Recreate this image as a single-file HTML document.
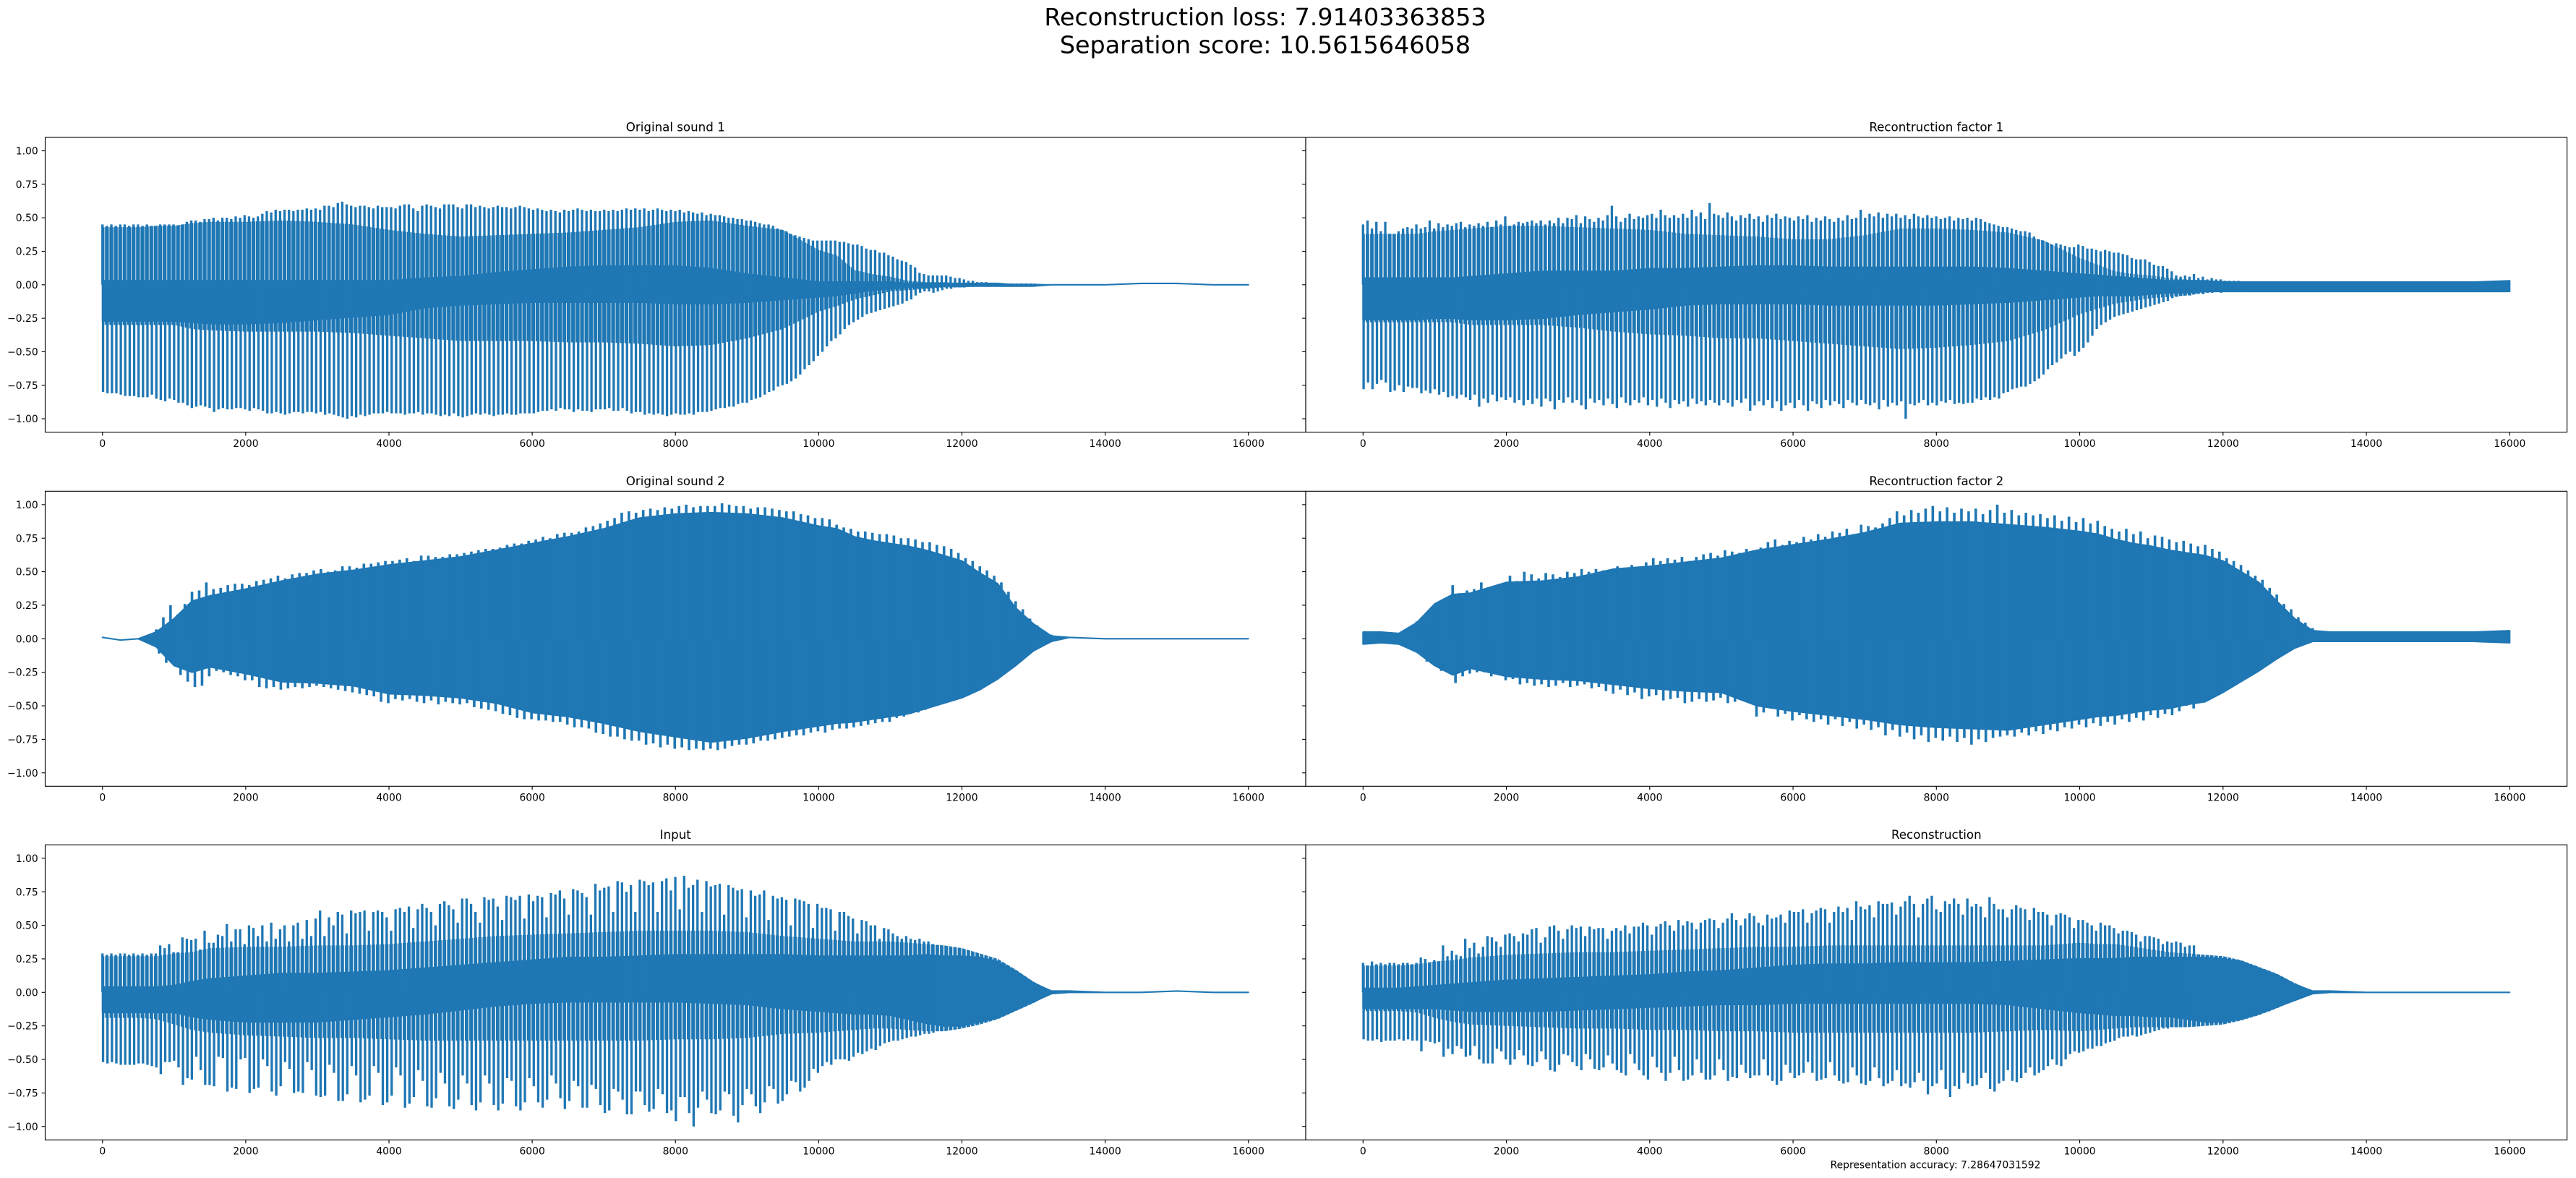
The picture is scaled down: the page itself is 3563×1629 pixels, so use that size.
<!DOCTYPE html>
<html>
<head>
<meta charset="utf-8">
<title>Source separation waveforms</title>
<style>
html,body{margin:0;padding:0;background:#fff;width:3563px;height:1629px;overflow:hidden}
svg{display:block}
text{font-family:"DejaVu Sans","Liberation Sans",sans-serif;fill:#000}
</style>
</head>
<body>
<svg id="chart" width="3563" height="1629" viewBox="0 0 3563 1629" xmlns="http://www.w3.org/2000/svg">
<defs id="defs"></defs>
<rect x="0" y="0" width="3563" height="1629" fill="#fff"/>
<text x="1750" y="35" font-size="33.33" text-anchor="middle">Reconstruction loss: 7.91403363853</text>
<text x="1750" y="73.3" font-size="33.33" text-anchor="middle">Separation score: 10.5615646058</text>
<text x="2677" y="1615.5" font-size="13.89" text-anchor="middle">Representation accuracy: 7.28647031592</text>
<g id="plots"></g>
</svg>
<script>
// All amplitudes are in hundredths; sample positions in samples.
const xTicks = [0,2000,4000,6000,8000,10000,12000,14000,16000];
const yTicks = [100,75,50,25,0,-25,-50,-75,-100];
const yTickLabels = ["1.00","0.75","0.50","0.25","0.00","\u22120.25","\u22120.50","\u22120.75","\u22121.00"];
const envelopeSamples = [0,250,500,750,1000,1250,1500,2000,2500,3000,3500,4000,4500,5000,5500,6000,6500,7000,7500,8000,8500,9000,9500,10000,10250,10500,10750,11000,11250,11500,11750,12000,12250,12500,12750,13000,13250,13500,14000,14500,15000,15500,16000];

const sound1BandHi = [43,43,43,44,44,46,47, 47,48,47,45,41,38,36,37,38,39,41,43,47,48,44,41, 26,22,11,8,6,3,2,2,1,1,1,1,1,0,0, 0,1,1,0,0];
const sound1CoreHi = [3,3,3,3,3,3,3, 3,3,3,3,3,5,6,9,11,13,14,14,14,12,8,5, 2,2,2,2,2,1,1,1,1,1,1,0,0,0,0, 0,1,1,0,0];
const sound1BandLo = [-30,-30,-30,-30,-30,-33,-34, -35,-35,-35,-36,-38,-40,-42,-42,-42,-43,-43,-44,-46,-45,-40,-33, -20,-16,-11,-8,-5,-4,-3,-2,-2,-1,-1,-1,-1,0,0, 0,1,1,0,0];
const sound1CoreLo = [-27,-27,-27,-27,-27,-28,-29, -29,-28,-26,-24,-22,-17,-15,-14,-13,-13,-13,-13,-14,-14,-13,-11, -9,-8,-6,-4,-3,-2,-2,-1,-1,-1,-1,-1,-1,0,0, 0,1,1,0,0];
const sound1SpikeHi = [45,44,45,44,45,45,44,45,45,44,45,44,44,45,45,45,
45,44,45,47,48,48,47,49,49,50,48,50,50,49,51,50,
52,51,50,51,53,55,54,56,55,56,56,55,56,56,57,56,
57,56,59,59,58,61,62,60,59,58,59,59,58,57,59,58,
58,58,57,59,60,60,57,55,59,60,59,58,57,60,60,60,
58,57,60,60,58,59,58,57,58,59,58,58,57,58,59,58,
57,56,57,56,55,56,55,54,56,55,56,57,56,55,56,55,
55,56,55,56,55,56,57,56,57,56,57,55,56,57,56,55,
56,55,56,54,55,54,53,54,52,53,52,52,51,50,50,49,
49,48,48,47,46,45,45,44,42,41,40,38,37,36,35,34,
33,33,33,33,33,33,32,32,31,30,30,29,27,26,26,24,
24,22,21,19,18,17,15,13,9,8,7,7,7,7,7,6,
5,5,4,3,3,2,2,2,1,1];
const sound1SpikeLo = [-80,-81,-81,-81,-82,-83,-83,-83,-84,-84,-84,-82,-85,-86,-87,-85,
-86,-88,-88,-90,-92,-91,-90,-91,-92,-95,-93,-92,-93,-93,-92,-92,
-93,-94,-92,-93,-94,-96,-96,-95,-96,-97,-96,-95,-95,-96,-95,-95,
-96,-95,-97,-96,-97,-98,-99,-100,-98,-99,-97,-98,-97,-96,-96,-96,
-95,-96,-96,-96,-97,-96,-96,-95,-97,-96,-96,-97,-98,-97,-98,-96,
-98,-99,-98,-97,-96,-97,-96,-97,-98,-97,-97,-96,-97,-97,-96,-96,
-96,-96,-95,-94,-94,-93,-94,-92,-93,-93,-95,-93,-94,-94,-95,-93,
-93,-93,-92,-94,-94,-92,-94,-96,-95,-95,-97,-96,-97,-96,-97,-98,
-97,-96,-97,-97,-96,-97,-95,-95,-95,-94,-93,-92,-92,-91,-91,-89,
-88,-88,-86,-85,-84,-82,-80,-79,-76,-75,-74,-72,-70,-67,-63,-60,
-57,-53,-50,-46,-42,-40,-37,-33,-30,-28,-26,-24,-22,-21,-20,-19,
-18,-17,-16,-15,-14,-12,-11,-8,-6,-5,-5,-6,-5,-4,-3,-3,
-2,-2,-2,-1,-1,-1,-1,0,0,0];

const factor1BandHi = [38,38,38,38,40,41,42, 44,44,43,42,41,38,37,36,34,34,37,42,42,41,39,33, 20,15,10,8,7,5,4,3,3,2,2,2,2,2,2, 2,2,2,2,3];
const factor1CoreHi = [5,5,5,5,5,5,6, 8,10,10,10,12,12,13,14,14,13,13,13,13,13,12,10, 8,7,6,5,4,3,3,3,2,2,2,2,2,2,2, 2,2,2,2,3];
const factor1BandLo = [-28,-28,-28,-28,-28,-28,-30, -30,-30,-32,-35,-37,-38,-40,-40,-42,-44,-46,-48,-47,-45,-42,-34, -22,-18,-14,-12,-10,-9,-8,-6,-5,-5,-5,-5,-5,-5,-5, -5,-5,-5,-5,-5];
const factor1CoreLo = [-26,-26,-26,-26,-25,-25,-26, -26,-25,-22,-20,-18,-15,-14,-14,-14,-15,-15,-15,-15,-14,-13,-11, -9,-8,-8,-8,-7,-6,-6,-5,-5,-5,-5,-5,-5,-5,-5, -5,-5,-5,-5,-5];
const factor1SpikeHi = [45,48,42,47,40,47,38,36,40,42,43,42,45,42,43,48,
42,46,43,45,44,46,47,43,45,44,46,44,47,42,48,45,
51,43,45,47,46,47,48,46,48,45,48,46,50,46,50,49,
52,46,51,49,47,50,48,52,59,51,47,50,53,49,51,50,
52,53,50,56,52,50,52,50,53,50,56,51,54,49,61,53,
52,50,54,51,48,52,50,53,49,51,47,52,50,53,49,51,
50,48,51,49,52,47,50,48,51,49,47,50,48,52,49,50,
56,50,53,51,54,50,53,51,53,50,52,49,53,51,50,52,
50,51,49,50,51,48,50,49,50,48,50,49,47,46,45,44,
43,43,42,41,40,40,39,36,34,32,30,30,31,30,29,28,
28,30,29,27,27,26,25,26,25,24,24,23,22,20,19,19,
19,17,15,14,14,12,10,7,6,7,6,8,5,6,4,5,
4,4,3,3,3,3];
const factor1SpikeLo = [-78,-73,-78,-74,-71,-73,-80,-79,-75,-80,-76,-77,-77,-81,-79,-81,
-78,-82,-80,-84,-83,-85,-82,-84,-86,-82,-91,-85,-88,-82,-87,-84,
-86,-84,-88,-86,-90,-86,-89,-85,-91,-85,-87,-93,-86,-88,-84,-88,
-86,-90,-93,-85,-88,-86,-90,-85,-89,-92,-84,-88,-90,-86,-88,-84,
-90,-86,-91,-85,-88,-92,-86,-89,-87,-91,-85,-89,-87,-90,-86,-88,
-90,-86,-88,-91,-86,-88,-85,-94,-90,-87,-90,-86,-92,-87,-94,-90,
-88,-92,-86,-90,-94,-87,-89,-92,-86,-90,-87,-89,-92,-86,-88,-90,
-86,-89,-90,-88,-93,-86,-91,-88,-90,-87,-100,-89,-90,-88,-86,-90,
-88,-90,-87,-88,-86,-89,-88,-89,-88,-88,-85,-86,-84,-86,-84,-85,
-81,-80,-78,-77,-76,-76,-74,-72,-70,-67,-63,-60,-58,-55,-52,-50,
-53,-50,-47,-43,-38,-33,-30,-28,-26,-24,-23,-22,-21,-20,-19,-18,
-17,-16,-15,-14,-13,-12,-10,-9,-8,-7,-8,-7,-6,-7,-6,-6,
-5,-6,-5,-5,-5,-5];

const sound2CoreHi = [1,-1,0,5,15,28,32, 37,43,48,51,55,58,61,66,71,76,82,90,93,94,93,90, 84,82,76,73,71,69,66,62,58,49,41,23,11,2,1, 0,0,0,0,0];
const sound2CoreLo = [1,-1,0,-6,-20,-25,-21, -26,-32,-33,-35,-41,-42,-44,-48,-55,-58,-63,-69,-73,-77,-74,-69, -65,-63,-62,-60,-58,-56,-52,-48,-44,-38,-30,-20,-9,-2,1, 0,0,0,0,0];
const sound2SpikeHi = [7,16,25,18,26,35,36,42,37,38,40,41,41,40,43,44,45,47,45,48,49,49,51,52,50,51,54,54,53,56,56,57,58,58,59,60,58,62,62,61,61,63,63,64,65,66,67,67,68,70,71,71,73,74,76,75,78,79,79,80,83,84,86,88,90,94,95,94,96,97,96,98,97,99,100,98,99,99,99,101,100,99,99,97,98,98,97,96,95,95,93,92,90,90,89,85,83,82,80,80,79,78,78,77,75,75,74,72,72,70,69,67,64,60,58,54,51,47,42,35,28,22,15,10,6,3];
const sound2SpikeLo = [-11,-18,-17,-27,-32,-36,-35,-28,-24,-25,-27,-28,-31,-31,-36,-37,-36,-38,-37,-36,-37,-36,-35,-36,-37,-38,-39,-40,-41,-42,-43,-47,-48,-45,-46,-45,-47,-48,-46,-49,-47,-48,-49,-48,-51,-52,-53,-54,-56,-57,-59,-60,-60,-61,-61,-62,-62,-64,-66,-66,-67,-70,-71,-73,-73,-75,-76,-76,-79,-78,-81,-79,-82,-81,-83,-82,-83,-82,-83,-82,-80,-79,-79,-78,-76,-76,-75,-74,-73,-72,-72,-70,-69,-70,-68,-67,-67,-66,-65,-64,-63,-62,-62,-59,-58,-56,-55,-53,-50,-48,-46,-43,-41,-39,-36,-33,-30,-26,-24,-20,-16,-12,-8,-5,-3,-1];

const factor2CoreHi = [5,5,4,12,26,33,34, 42,43,46,52,54,57,60,66,70,74,79,86,87,87,85,83, 80,78,74,71,69,66,64,62,58,50,42,28,15,6,5, 5,5,5,5,6];
const factor2CoreLo = [-4,-3,-4,-10,-20,-27,-22, -28,-30,-31,-34,-37,-39,-40,-50,-54,-57,-60,-64,-66,-67,-68,-64, -60,-58,-57,-55,-53,-52,-49,-47,-40,-32,-24,-15,-7,-2,-2, -2,-2,-2,-2,-3];
const factor2SpikeHi = [13,14,23,22,29,40,34,36,37,42,36,38,40,47,43,50,48,45,49,48,46,50,49,52,50,52,51,50,54,53,55,52,57,60,58,60,59,61,58,61,63,64,62,66,65,64,67,66,68,72,74,70,73,72,76,74,78,76,80,79,82,78,85,84,83,86,90,95,92,96,94,97,99,95,98,94,97,95,97,93,96,100,94,96,92,94,92,93,90,92,88,91,87,90,86,88,84,82,80,82,78,80,75,77,76,74,72,73,71,69,70,67,65,60,58,55,51,47,44,38,33,26,22,16,12,8];
const factor2SpikeLo = [-10,-17,-16,-24,-22,-33,-28,-26,-25,-25,-28,-27,-31,-30,-34,-33,-35,-34,-36,-35,-33,-36,-35,-34,-37,-36,-39,-41,-38,-42,-40,-45,-43,-42,-46,-45,-44,-48,-47,-45,-47,-46,-44,-48,-47,-45,-47,-58,-55,-52,-58,-56,-61,-57,-60,-62,-60,-64,-60,-65,-62,-67,-64,-68,-66,-72,-68,-73,-70,-75,-72,-77,-74,-76,-73,-77,-74,-79,-75,-77,-74,-73,-72,-73,-70,-72,-69,-71,-68,-69,-66,-67,-64,-66,-63,-65,-62,-64,-60,-62,-59,-61,-57,-59,-56,-57,-54,-50,-52,-47,-44,-40,-38,-34,-31,-28,-25,-20,-17,-14,-10,-8,-5,-4,-3,-2];

const inputBandHi = [27,27,27,27,29,30,33, 34,34,35,35,36,38,40,42,43,44,45,46,46,46,45,42, 40,39,38,38,38,37,36,35,33,29,25,17,8,1,1, 0,0,1,0,0];
const inputCoreHi = [4,4,4,4,5,8,10, 12,14,14,15,16,18,20,22,24,26,26,27,28,28,28,28, 27,27,27,27,27,27,28,27,27,26,23,16,7,1,1, 0,0,1,0,0];
const inputBandLo = [-19,-19,-19,-20,-24,-28,-30, -32,-33,-34,-34,-35,-36,-36,-36,-36,-36,-36,-36,-35,-35,-34,-31, -30,-29,-28,-27,-27,-28,-29,-29,-27,-24,-20,-14,-8,-1,0, 0,0,1,0,0];
const inputCoreLo = [-15,-15,-15,-15,-15,-18,-20, -22,-22,-22,-20,-18,-16,-13,-10,-8,-7,-7,-7,-7,-8,-9,-12, -14,-15,-16,-16,-17,-20,-23,-25,-25,-22,-19,-13,-7,-1,0, 0,0,1,0,0];
const inputSpikeHi = [29,28,29,28,29,29,28,29,28,29,28,29,29,
35,33,36,30,30, 41,40,39,40,32, 46,37,37,43,42, 51,38,47,47,36, 50,48,42,50,38,
52,40,47,50,38, 50,52,40,54,42, 55,61,42,56,50, 60,58,44,61,59, 60,61,46,60,61,
60,56,46,62,63, 60,64,48,62,66, 63,60,50,66,68, 65,62,52,70,70, 66,60,52,71,69,
70,64,54,72,71, 69,72,55,73,68, 72,71,56,74,73, 76,70,58,77,76, 74,71,58,81,76,
78,79,60,83,82, 75,80,60,84,83, 80,82,60,83,85, 76,86,62,87,78, 80,84,60,83,79,
80,81,58,80,78, 76,77,56,76,72, 73,76,54,72,70, 71,69,50,70,69, 68,66,48,66,63,
63,62,46,60,60, 57,55,44,54,53, 50,50,40,48,47, 44,42,40,42,40, 39,40,38,38,36];
const inputSpikeLo = [-52,-53,-52,-53,-54,-54,-54,-54,-53,-53,-54,-55,-56,
-61,-52,-52,-51,-56, -69,-64,-65,-48,-58, -69,-69,-70,-48,-49, -74,-71,-72,-50,-49, -75,-72,-71,-50,-55,
-74,-77,-70,-52,-57, -75,-74,-75,-52,-58, -77,-78,-77,-54,-60, -81,-81,-76,-55,-62, -82,-80,-77,-55,-60,
-84,-82,-77,-56,-62, -86,-83,-78,-58,-66, -85,-86,-79,-60,-68, -85,-87,-80,-62,-68, -84,-88,-82,-62,-68,
-84,-88,-83,-64,-66, -85,-88,-82,-64,-70, -82,-86,-80,-62,-68, -79,-87,-81,-66,-70, -86,-86,-69,-72,-84,
-90,-88,-72,-74,-80, -91,-91,-74,-74,-84, -89,-87,-72,-76,-90, -88,-96,-78,-78,-90, -100,-86,-74,-80,-90,
-91,-88,-74,-76,-92, -97,-84,-72,-76,-85, -90,-82,-70,-72,-83, -81,-76,-66,-67,-74, -71,-66,-57,-60,-55,
-52,-54,-50,-50,-50, -51,-48,-45,-46,-44, -42,-43,-40,-38,-37, -36,-36,-35,-34,-33, -33,-32,-31,-31,-30];

const reconBandHi = [20,20,20,21,23,24,26, 28,29,30,30,31,32,33,34,34,35,35,35,35,35,35,35, 37,36,36,34,32,30,29,28,27,24,19,14,7,1,1, 0,0,0,0,0];
const reconCoreHi = [3,3,3,4,5,6,7, 9,10,11,12,13,15,16,18,20,21,21,22,22,22,23,24, 25,25,25,26,26,26,26,26,25,23,18,13,6,1,1, 0,0,0,0,0];
const reconBandLo = [-14,-14,-14,-15,-19,-22,-24, -25,-26,-27,-27,-28,-28,-29,-29,-30,-30,-30,-30,-30,-30,-29,-28, -29,-28,-27,-26,-26,-26,-26,-25,-24,-21,-17,-12,-6,-1,0, 0,0,0,0,0];
const reconCoreLo = [-12,-12,-12,-12,-12,-13,-14, -14,-14,-13,-12,-11,-10,-9,-9,-8,-8,-8,-8,-8,-8,-9,-12, -15,-16,-17,-17,-18,-18,-20,-22,-22,-20,-16,-11,-6,-1,0, 0,0,0,0,0];
const reconSpikeHi = [22,20,23,21,22,21,22,22,21,22,22,21,22,
26,25,22,24,23, 35,27,31,28,27, 40,33,37,29,34, 42,41,38,34,43, 44,42,38,44,43,
47,48,37,41,49, 50,46,40,47,50, 48,49,42,49,47, 48,48,40,46,48, 46,50,44,49,49,
52,50,43,49,51, 53,50,46,54,50, 53,52,47,52,54, 55,54,48,52,55, 59,54,50,55,59,
57,52,50,58,55, 56,58,52,61,60, 60,62,52,59,61, 63,62,52,60,64, 60,63,54,68,64,
62,65,56,68,66, 66,67,58,64,68, 72,66,56,66,70, 72,62,60,68,66, 70,66,58,70,64,
66,64,56,71,66, 62,62,56,62,65, 63,62,54,63,60, 60,58,50,58,59, 58,56,48,54,54,
52,50,46,52,50, 50,48,44,46,46, 45,43,38,42,42, 41,40,36,38,37, 38,37,34,35,35];
const reconSpikeLo = [-35,-36,-36,-35,-37,-36,-36,-36,-35,-36,-35,-36,-36,
-44,-36,-37,-38,-37, -48,-42,-46,-40,-42, -48,-47,-40,-50,-53, -53,-53,-42,-44,-50, -54,-50,-43,-47,-54,
-55,-52,-44,-50,-58, -59,-54,-46,-47,-52, -55,-58,-46,-50,-57, -58,-56,-47,-53,-58, -60,-62,-46,-53,-58,
-62,-65,-48,-56,-60, -66,-60,-48,-58,-66, -65,-62,-50,-60,-65, -65,-62,-50,-58,-66, -63,-64,-54,-60,-64,
-62,-62,-50,-62,-66, -69,-66,-54,-60,-64, -62,-60,-52,-60,-66, -65,-64,-52,-62,-66, -68,-67,-56,-62,-68,
-69,-66,-56,-64,-70, -68,-66,-58,-70,-68, -71,-67,-60,-66,-76, -70,-68,-58,-72,-78, -70,-72,-60,-68,-70,
-69,-64,-60,-72,-74, -68,-66,-58,-66,-67, -64,-60,-56,-62,-60, -58,-55,-50,-54,-55, -50,-46,-44,-45,-44,
-42,-42,-40,-40,-38, -37,-36,-34,-33,-33, -32,-33,-32,-31,-30, -29,-28,-27,-27,-26, -26,-25,-25,-24,-24];

const NS = 'http://www.w3.org/2000/svg';
const LINE = '#1f77b4';
const plots = document.getElementById('plots');
const defs = document.getElementById('defs');
const COL = [{left:62.5,right:1806},{left:1806,right:3550.6}];
const ROW = [{top:190,bottom:597.6},{top:679.3,bottom:1087.3},{top:1168.3,bottom:1576.3}];

function node(tag, parent, attrs, txt){
  const el = document.createElementNS(NS, tag);
  for (const k in attrs) el.setAttribute(k, attrs[k]);
  if (txt !== undefined) el.textContent = txt;
  parent.appendChild(el);
  return el;
}

function drawPanel(cfg){
  const c = COL[cfg.col], r = ROW[cfg.row];
  const w = c.right - c.left, h = r.bottom - r.top;
  const sx = t => c.left + (t + 800) / 17600 * w;
  const sy = v => r.top + (110 - v) / 220 * h;

  const g = node('g', plots, {});
  
  

  const title = node('text', g, {x:(c.left+c.right)/2, y:r.top-8.3, 'font-size':16.67, 'text-anchor':'middle'}, cfg.title);
  
  

  function envelope(hi, lo){
    let d = '';
    envelopeSamples.forEach((t,i) => { d += (i ? 'L' : 'M') + sx(t).toFixed(2) + ' ' + sy(hi[i]).toFixed(2); });
    for (let i = envelopeSamples.length - 1; i >= 0; i--) d += 'L' + sx(envelopeSamples[i]).toFixed(2) + ' ' + sy(lo[i]).toFixed(2);
    return d + 'Z';
  }

  if (cfg.bandHi) {
    const pw = cfg.pitch / 17600 * w;
    const pid = 'stripes-' + cfg.name;
    const pat = node('pattern', defs, {id:pid, patternUnits:'userSpaceOnUse', width:pw, height:10, x:sx(cfg.start) - cfg.stripe / 2, y:0});
    node('rect', pat, {x:0, y:0, width:cfg.stripe, height:10, fill:LINE});
    const band = node('path', g, {d:envelope(cfg.bandHi, cfg.bandLo), fill:'url(#' + pid + ')'});
    
    
  }

  const core = node('path', g, {d:envelope(cfg.coreHi, cfg.coreLo), fill:LINE, stroke:LINE, 'stroke-width':2.08, 'stroke-linejoin':'round'});
  
  

  let ds = '';
  cfg.spikeHi.forEach((v,i) => {
    const x = sx(cfg.start + i * cfg.pitch).toFixed(2);
    ds += 'M' + x + ' ' + sy(0).toFixed(2) + 'L' + x + ' ' + sy(v).toFixed(2);
  });
  cfg.spikeLo.forEach((v,i) => {
    const x = sx(cfg.start + i * cfg.pitch + cfg.loOffset).toFixed(2);
    ds += 'M' + x + ' ' + sy(0).toFixed(2) + 'L' + x + ' ' + sy(v).toFixed(2);
  });
  const spikes = node('path', g, {d:ds, fill:'none', stroke:LINE, 'stroke-width':cfg.spikeWidth});
  
  

  const frame = node('rect', g, {x:c.left, y:r.top, width:w, height:h, fill:'none', stroke:'#000', 'stroke-width':1.11});
  
  

  xTicks.forEach(t => {
    const x = sx(t);
    const tick = node('line', g, {x1:x, x2:x, y1:r.bottom, y2:r.bottom+4.86, stroke:'#000', 'stroke-width':1.11});
    
    
    const lab = node('text', g, {x:x, y:r.bottom+20.4, 'font-size':13.89, 'text-anchor':'middle'}, String(t));
    
    
  });
  yTicks.forEach((v,i) => {
    const y = sy(v);
    const tick = node('line', g, {x1:c.left-4.86, x2:c.left, y1:y, y2:y, stroke:'#000', 'stroke-width':1.11});
    
    
    if (cfg.col === 0) {
      const lab = node('text', g, {x:c.left-9.8, y:y+5.05, 'font-size':13.89, 'text-anchor':'end'}, yTickLabels[i]);
      
      
    }
  });
}

drawPanel({name:'original-sound-1', title:'Original sound 1', col:0, row:0, start:0, pitch:62, loOffset:8, spikeWidth:3.3, stripe:5.4, bandHi:sound1BandHi, bandLo:sound1BandLo, coreHi:sound1CoreHi, coreLo:sound1CoreLo, spikeHi:sound1SpikeHi, spikeLo:sound1SpikeLo});
drawPanel({name:'reconstruction-factor-1', title:'Recontruction factor 1', col:1, row:0, start:0, pitch:62, loOffset:8, spikeWidth:3.3, stripe:4.9, bandHi:factor1BandHi, bandLo:factor1BandLo, coreHi:factor1CoreHi, coreLo:factor1CoreLo, spikeHi:factor1SpikeHi, spikeLo:factor1SpikeLo});
drawPanel({name:'original-sound-2', title:'Original sound 2', col:0, row:1, start:750, pitch:100, loOffset:40, spikeWidth:3.6, coreHi:sound2CoreHi, coreLo:sound2CoreLo, spikeHi:sound2SpikeHi, spikeLo:sound2SpikeLo});
drawPanel({name:'reconstruction-factor-2', title:'Recontruction factor 2', col:1, row:1, start:750, pitch:100, loOffset:40, spikeWidth:3.6, coreHi:factor2CoreHi, coreLo:factor2CoreLo, spikeHi:factor2SpikeHi, spikeLo:factor2SpikeLo});
drawPanel({name:'input', title:'Input', col:0, row:2, start:0, pitch:62, loOffset:8, spikeWidth:3.3, stripe:4.9, bandHi:inputBandHi, bandLo:inputBandLo, coreHi:inputCoreHi, coreLo:inputCoreLo, spikeHi:inputSpikeHi, spikeLo:inputSpikeLo});
drawPanel({name:'reconstruction', title:'Reconstruction', col:1, row:2, start:0, pitch:62, loOffset:8, spikeWidth:3.3, stripe:4.9, bandHi:reconBandHi, bandLo:reconBandLo, coreHi:reconCoreHi, coreLo:reconCoreLo, spikeHi:reconSpikeHi, spikeLo:reconSpikeLo});
</script>
</body>
</html>
